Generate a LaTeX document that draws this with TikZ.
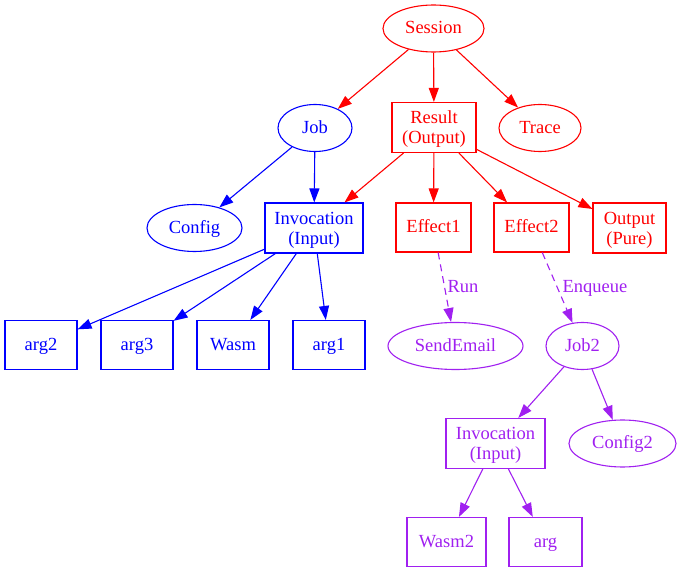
\documentclass[tikz,border=0pt]{standalone}
\usepackage{fontspec}
\setmainfont{Liberation Serif}
\usetikzlibrary{arrows.meta,shapes.geometric}
\definecolor{gvpurple}{HTML}{A020F0}
\newcommand{\tallstrut}{\rule{0pt}{16.5pt}}
\begin{document}
\begin{tikzpicture}[x=1pt,y=-1pt,
  every node/.style={font=\fontsize{18.5}{20}\selectfont, inner sep=0pt, line width=1.1pt, align=center},
  ell/.style={draw, ellipse, minimum height=47, text height=13, text depth=2},
  box/.style={draw, rectangle, minimum height=49, text height=13, text depth=2},
  box2/.style={draw, rectangle, minimum height=50},
  edge/.style={line width=1.1pt, -{Triangle[length=14,width=10]}},
  rd/.style={draw=red, text=red},
  bl/.style={draw=blue, text=blue},
  pu/.style={draw=gvpurple, text=gvpurple},
  lbl/.style={text=gvpurple, anchor=center, text height=13, text depth=2}
]
\useasboundingbox (0,0) rectangle (681,572);
% red
\node[ell,rd,minimum width=101] (session) at (433.5,28.5) {Session};
\node[box2,rd,minimum width=84] (result) at (434,127.5) {\tallstrut Result\\(Output)};
\node[ell,rd,minimum width=82] (trace) at (540,128) {Trace};
\node[box,rd,minimum width=75] (effect1) at (433.5,227.5) {Effect1};
\node[box,rd,minimum width=75] (effect2) at (531.5,227.5) {Effect2};
\node[box2,rd,minimum width=73] (output) at (629.5,228) {\tallstrut Output\\(Pure)};
% blue
\node[ell,bl,minimum width=74] (job) at (315,128) {Job};
\node[ell,bl,minimum width=95] (config) at (194.5,228) {Config};
\node[box2,bl,minimum width=98] (inv) at (314,228) {\tallstrut Invocation\\(Input)};
\node[box,bl,minimum width=72] (arg2) at (41,345) {arg2};
\node[box,bl,minimum width=72] (arg3) at (137,345) {arg3};
\node[box,bl,minimum width=72] (wasm) at (233,345) {Wasm};
\node[box,bl,minimum width=72] (arg1) at (329,345) {arg1};
% purple
\node[ell,pu,minimum width=135] (send) at (455.5,346) {SendEmail};
\node[ell,pu,minimum width=73] (job2) at (582.5,346) {Job2};
\node[box2,pu,minimum width=99] (inv2) at (495.5,443.5) {\tallstrut Invocation\\(Input)};
\node[ell,pu,minimum width=107] (config2) at (622.5,443.5) {Config2};
\node[box,pu,minimum width=79] (wasm2) at (446.5,542) {Wasm2};
\node[box,pu,minimum width=73] (arg) at (545.5,542) {arg};
% red edges
\draw[edge,red] (session) -- (job);
\draw[edge,red] (session) -- (result);
\draw[edge,red] (session) -- (trace);
\draw[edge,red] (result) -- (inv);
\draw[edge,red] (result) -- (effect1);
\draw[edge,red] (result) -- (effect2);
\draw[edge,red] (result) -- (output);
% blue edges
\draw[edge,blue] (job) -- (config);
\draw[edge,blue] (job) -- (inv);
\draw[edge,blue] (inv) -- (arg2);
\draw[edge,blue] (inv) -- (arg3);
\draw[edge,blue] (inv) -- (wasm);
\draw[edge,blue] (inv) -- (arg1);
% purple edges
\draw[edge,gvpurple,dash pattern=on 7pt off 5pt] (effect1) -- (send);
\draw[edge,gvpurple,dash pattern=on 7pt off 5pt] (effect2) -- (job2);
\node[lbl] (runlbl) at (463,287) {Run};
\node[lbl] (enqlbl) at (595,287) {Enqueue};
\draw[edge,gvpurple] (job2) -- (inv2);
\draw[edge,gvpurple] (job2) -- (config2);
\draw[edge,gvpurple] (inv2) -- (wasm2);
\draw[edge,gvpurple] (inv2) -- (arg);
\end{tikzpicture}
\end{document}
